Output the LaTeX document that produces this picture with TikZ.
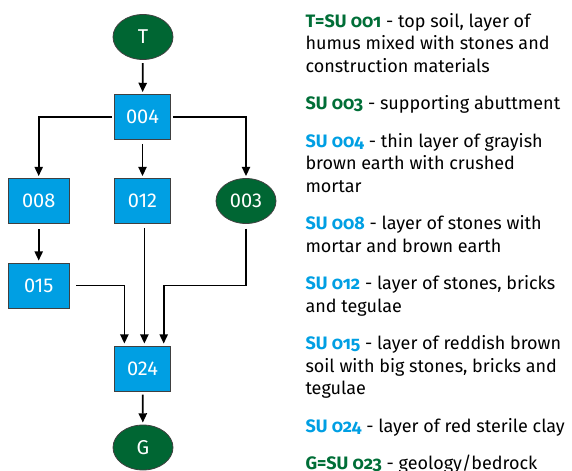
\documentclass[tikz,border=0pt]{standalone}
\usepackage{fontspec}
\setmainfont{Fira Sans}[Numbers=OldStyle]
\newfontfamily\unitfont{Fira Sans}
\usetikzlibrary{arrows.meta,shapes.geometric}

\definecolor{sugreen}{RGB}{0,102,51}
\definecolor{sublue}{RGB}{0,159,227}
\definecolor{legreen}{RGB}{0,110,55}

\tikzset{every picture/.style={line width=0.75pt}}
\tikzset{
  unitbox/.style={draw=black!75, line width=0.6pt, fill=sublue, text=white,
    minimum width=42pt, minimum height=33.75pt, inner sep=0pt,
    font=\unitfont\fontsize{15}{15}\selectfont},
  boundary/.style={ellipse, draw=black!75, line width=0.6pt, fill=sugreen, text=white,
    minimum width=45pt, minimum height=33.75pt, inner sep=0pt,
    font=\unitfont\fontsize{15}{15}\selectfont},
  flow/.style={-{Triangle[length=7pt,width=6.2pt]}, line width=1.3pt,
    shorten <=2.5pt, shorten >=1.5pt},
  legend/.style={anchor=base west, inner sep=0pt, align=left,
    font=\fontsize{13.5}{16.875}\selectfont},
}
\newcommand{\gsu}[1]{\textcolor{legreen}{\textbf{#1}}}
\newcommand{\bsu}[1]{\textcolor{sublue}{\textbf{#1}}}

\begin{document}
\begin{tikzpicture}[x=0.75pt,y=0.75pt,yscale=-1,xscale=1]
\path[use as bounding box] (0,0) rectangle (572,471);

%Units of the matrix
\node[boundary] (T) at (143,37) {T};
\node[unitbox] (u004) at (142.5,117) {004};
\node[unitbox, minimum width=45.5pt] (u008) at (38.7,201) {008};
\node[unitbox] (u012) at (142.5,201) {012};
\node[boundary] (u003) at (246,201) {003};
\node[unitbox, minimum width=45.5pt] (u015) at (38.7,285.5) {015};
\node[unitbox] (u024) at (142.5,368.5) {024};
\node[boundary] (G) at (143,447.5) {G};

%Relations
\draw[flow] (T) -- (u004);
\draw[flow, shorten <=1.5pt] (u004.west) -| (u008);
\draw[flow, shorten <=3pt] (u004) -- (u012);
\draw[flow, shorten <=1.5pt] (u004.east) -| (u003);
\draw[flow, shorten <=4pt] (u008) -- (u015);
\draw[flow, shorten <=5pt] (u015.east) -| ([xshift=-13.6pt]u024.north);
\draw[flow, shorten <=3pt] ([xshift=1.4pt]u012.south) -- ([xshift=1.4pt]u024.north);
\draw[flow, shorten <=3.5pt] (u003) -- (u003 |- u015.east) -| ([xshift=15.9pt]u024.north);
\draw[flow] (u024) -- (G);

% Text Node (placed at the baseline of its last line)
\node[legend] (legT) at (305,72) {\gsu{T=SU 001} - top soil, layer of\\humus mixed with stones and\\construction materials};
% Text Node
\node[legend] (leg003) at (305,109.5) {\gsu{SU 003} - supporting abuttment};
% Text Node
\node[legend] (leg004) at (305,192) {\bsu{SU 004} - thin layer of grayish\\brown earth with crushed\\mortar};
% Text Node
\node[legend] (leg008) at (305,252) {\bsu{SU 008} - layer of stones with\\mortar and brown earth};
% Text Node
\node[legend] (leg012) at (305,312) {\bsu{SU 012} - layer of stones, bricks\\and tegulae};
% Text Node
\node[legend] (leg015) at (305,394.5) {\bsu{SU 015} - layer of reddish brown\\soil with big stones, bricks and\\tegulae};
% Text Node
\node[legend] (leg024) at (305,432) {\bsu{SU 024} - layer of red sterile clay};
% Text Node
\node[legend] (legG) at (305,469.5) {\gsu{G=SU 023} - geology/bedrock};

\end{tikzpicture}
\end{document}
